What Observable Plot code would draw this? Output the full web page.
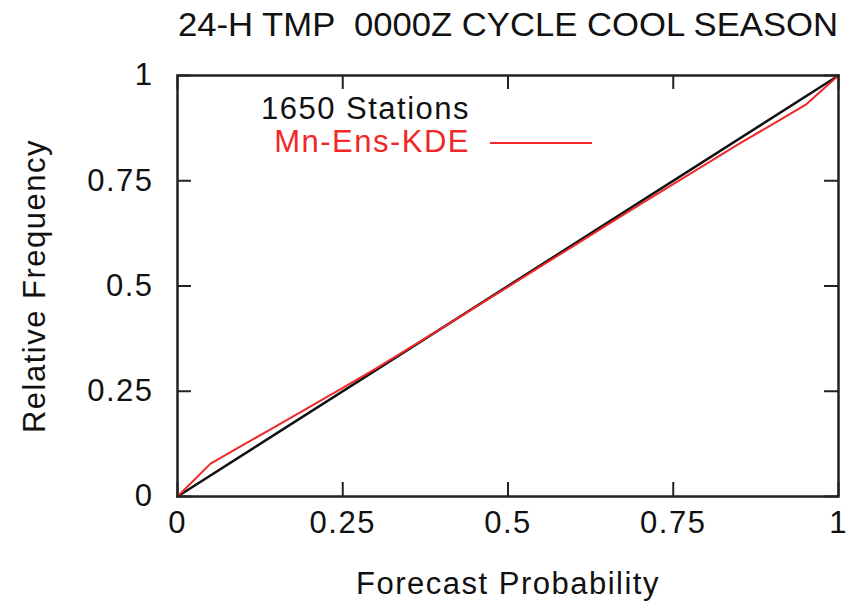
<!DOCTYPE html>
<html>
<head>
<meta charset="utf-8">
<script src="https://cdn.jsdelivr.net/npm/d3@7"></script>
<script src="https://cdn.jsdelivr.net/npm/@observablehq/plot@0.6"></script>
<style>
  html, body { margin: 0; padding: 0; background: #fff; }
  #wrap { position: relative; width: 858px; height: 605px; font-family: "Liberation Sans", Arial, sans-serif; }
  #title { position: absolute; left: 178px; top: 8px; font-size: 33px; line-height: 33px; color: #111; white-space: pre; transform-origin: 0 0; }
  .leg { position: absolute; font-size: 31px; line-height: 31px; letter-spacing: 1.5px; white-space: pre; text-align: right; }
  #leg1 { right: calc(858px - 470px); top: 93px; color: #111; }
  #leg2 { right: calc(858px - 470px); top: 126px; color: #f02828; }
  #legline { position: absolute; left: 490px; width: 102px; top: 142px; height: 0; border-top: 2px solid #f02828; }
</style>
</head>
<body>
<div id="wrap">
  <div id="title"></div>
  <div id="leg1" class="leg"></div>
  <div id="leg2" class="leg"></div>
  <div id="legline"></div>
</div>
<script>
const titleText = "24-H TMP  0000Z CYCLE COOL SEASON";
const xLabel = "Forecast Probability";
const yLabel = "Relative Frequency";
const legendHeader = "1650 Stations";
const seriesName = "Mn-Ens-KDE";

const tickValues = [0, 0.25, 0.5, 0.75, 1];
const tickLabels = ["0", "0.25", "0.5", "0.75", "1"];

const forecastProb = [0, 0.05, 0.1, 0.15, 0.2, 0.25, 0.3, 0.35, 0.4, 0.45, 0.5,
                      0.55, 0.6, 0.65, 0.7, 0.75, 0.8, 0.85, 0.9, 0.95, 1];
const mnEnsKde = [0, 0.078, 0.123, 0.168, 0.213, 0.258, 0.304, 0.352, 0.400, 0.449, 0.498,
                  0.547, 0.596, 0.645, 0.694, 0.742, 0.790, 0.838, 0.884, 0.930, 1];
const perfectX = [0, 1];
const perfectY = [0, 1];

const redData = forecastProb.map((p, i) => ({p, f: mnEnsKde[i]}));
const blackData = perfectX.map((p, i) => ({p, f: perfectY[i]}));

const W = 858, H = 605;
const mL = 177, mR = 20, mT = 75, mB = 109;
const fw = W - mL - mR, fh = H - mT - mB;
const tickLen = 14;

const chart = Plot.plot({
  width: W,
  height: H,
  marginLeft: mL,
  marginRight: mR,
  marginTop: mT,
  marginBottom: mB,
  style: {fontFamily: "Liberation Sans, Arial, sans-serif", fontSize: "31px", color: "#111", letterSpacing: "1.5px", background: "transparent"},
  x: {domain: [0, 1]},
  y: {domain: [0, 1]},
  marks: [
    Plot.axisX({ticks: tickValues, tickFormat: (d) => tickLabels[tickValues.indexOf(d)], tickSize: 0, tickPadding: 14, label: xLabel, labelAnchor: "center", labelOffset: 97, labelArrow: "none"}),
    Plot.axisY({ticks: tickValues, tickFormat: (d) => tickLabels[tickValues.indexOf(d)], tickSize: 0, tickPadding: 24, label: yLabel, labelAnchor: "center", labelOffset: 155, labelArrow: "none"}),
    Plot.tickX(tickValues, {x: d => d, insetTop: fh - tickLen, stroke: "#222", strokeWidth: 2}),
    Plot.tickX(tickValues, {x: d => d, insetBottom: fh - tickLen, stroke: "#222", strokeWidth: 2}),
    Plot.tickY(tickValues, {y: d => d, insetRight: fw - tickLen, stroke: "#222", strokeWidth: 2}),
    Plot.tickY(tickValues, {y: d => d, insetLeft: fw - tickLen, stroke: "#222", strokeWidth: 2}),
    Plot.line(blackData, {x: "p", y: "f", stroke: "#111", strokeWidth: 2.5}),
    Plot.line(redData, {x: "p", y: "f", stroke: "#f02828", strokeWidth: 2}),
    Plot.frame({stroke: "#222", strokeWidth: 2.5})
  ]
});

const wrap = document.getElementById("wrap");
wrap.insertBefore(chart, wrap.firstChild);
const titleEl = document.getElementById("title");
titleEl.textContent = titleText;
const tw = titleEl.getBoundingClientRect().width;
titleEl.style.transform = `scaleX(${660 / tw})`;
document.getElementById("leg1").textContent = legendHeader;
document.getElementById("leg2").textContent = seriesName;
</script>
</body>
</html>
